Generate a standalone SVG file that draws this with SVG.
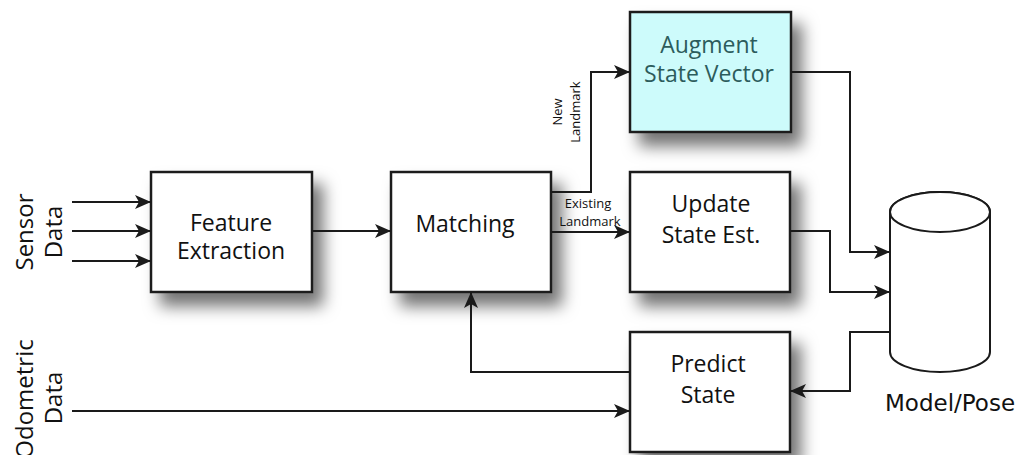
<svg xmlns="http://www.w3.org/2000/svg" width="1020" height="455" viewBox="0 0 1020 455">
  <style>
    .box { fill: #ffffff; stroke: #1a1a1a; stroke-width: 2.5; }
    .aug { fill: #cdfbfb; stroke: #1a1a1a; stroke-width: 2.5; }
    .lbl { font-family: "Open Sans", "Liberation Sans", sans-serif; font-size: 23px; fill: #111111; text-anchor: middle; }
    .auglbl { fill: #2c5c5c; }
    .side { font-family: "Open Sans", "Liberation Sans", sans-serif; font-size: 24px; fill: #111111; text-anchor: middle; }
    .small { font-family: "Open Sans", "Liberation Sans", sans-serif; font-size: 13px; fill: #111111; text-anchor: middle; }
    .store { font-family: "DejaVu Sans", "Liberation Sans", sans-serif; font-size: 23px; fill: #111111; text-anchor: middle; }
    .wire { fill: none; stroke: #1a1a1a; stroke-width: 2; }
    .arr { marker-end: url(#head); }
    .db { fill: #ffffff; stroke: #1a1a1a; stroke-width: 2; }
  </style>
  <defs>
    <filter id="shadow" x="-20%" y="-20%" width="160%" height="170%">
      <feDropShadow dx="10" dy="13" stdDeviation="8" flood-color="#000000" flood-opacity="0.55"/>
    </filter>
    <marker id="head" markerWidth="18" markerHeight="16" refX="16" refY="8" orient="auto" markerUnits="userSpaceOnUse">
      <path d="M0,1 L16,8 L0,15 L4,8 Z" fill="#1a1a1a"/>
    </marker>
  </defs>

  <rect width="1020" height="455" fill="#ffffff"/>

  <!-- input labels -->
  <g id="sensor-data">
    <text class="side" transform="translate(33,232) rotate(-90)">Sensor</text>
    <text class="side" transform="translate(62,232) rotate(-90)">Data</text>
  </g>
  <g id="odometric-data">
    <text class="side" transform="translate(33,399) rotate(-90)">Odometric</text>
    <text class="side" transform="translate(62,398) rotate(-90)">Data</text>
  </g>

  <!-- processing blocks -->
  <g id="feature-extraction">
    <rect class="box" x="151" y="172" width="161" height="120" filter="url(#shadow)"/>
    <text class="lbl" x="231" y="231">Feature</text>
    <text class="lbl" x="231" y="259">Extraction</text>
  </g>
  <g id="matching">
    <rect class="box" x="391" y="172" width="160" height="120" filter="url(#shadow)"/>
    <text class="lbl" x="465" y="232">Matching</text>
  </g>
  <g id="augment-state-vector">
    <rect class="aug" x="630" y="12" width="161" height="120" filter="url(#shadow)"/>
    <text class="lbl auglbl" x="709" y="53">Augment</text>
    <text class="lbl auglbl" x="709" y="82">State Vector</text>
  </g>
  <g id="update-state-est">
    <rect class="box" x="630" y="172" width="160" height="120" filter="url(#shadow)"/>
    <text class="lbl" x="711" y="212">Update</text>
    <text class="lbl" x="711" y="243">State Est.</text>
  </g>
  <g id="predict-state">
    <rect class="box" x="630" y="332" width="160" height="120" filter="url(#shadow)"/>
    <text class="lbl" x="708" y="372">Predict</text>
    <text class="lbl" x="708" y="403">State</text>
  </g>

  <!-- model / pose store -->
  <g id="model-pose">
    <path class="db" d="M890,212 L890,352 A50,20 0 0 0 990,352 L990,212 A50,20 0 0 0 890,212 Z"/>
    <ellipse class="db" cx="940" cy="212" rx="50" ry="20"/>
    <text class="store" x="950" y="411">Model/Pose</text>
  </g>

  <!-- connectors -->
  <g id="connectors">
    <line class="wire arr" x1="72" y1="202" x2="151" y2="202"/>
    <line class="wire arr" x1="72" y1="231" x2="151" y2="231"/>
    <line class="wire arr" x1="72" y1="261" x2="151" y2="261"/>
    <line class="wire arr" x1="72" y1="411" x2="630" y2="411"/>
    <line class="wire arr" x1="312" y1="231" x2="391" y2="231"/>
    <polyline class="wire arr" points="551,192 591,192 591,72 630,72"/>
    <line class="wire arr" x1="551" y1="232" x2="630" y2="232"/>
    <polyline class="wire arr" points="791,72 850,72 850,252 890,252"/>
    <polyline class="wire arr" points="790,231 830,231 830,292 890,292"/>
    <polyline class="wire arr" points="890,332 850,332 850,391 790,391"/>
    <polyline class="wire arr" points="630,372 471,372 471,292"/>
    <text class="small" transform="translate(562,112) rotate(-90)">New</text>
    <text class="small" transform="translate(580,112) rotate(-90)">Landmark</text>
    <text class="small" x="588" y="208">Existing</text>
    <text class="small" x="590" y="226">Landmark</text>
  </g>
</svg>
